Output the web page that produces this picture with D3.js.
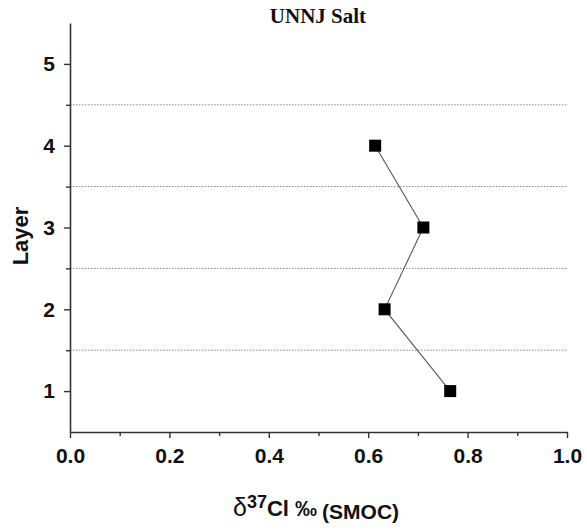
<!DOCTYPE html>
<html>
<head>
<meta charset="utf-8">
<script src="https://cdn.jsdelivr.net/npm/d3@7"></script>
<style>
  body { margin: 0; background: #fff; }
  svg { display: block; }
</style>
</head>
<body>
<svg id="chart" width="587" height="531"></svg>
<script>
// Layer-wise chlorine isotope values
const layers = [1, 2, 3, 4];
const delta37Cl = [0.765, 0.633, 0.711, 0.614];
const xTicks = [0.0, 0.2, 0.4, 0.6, 0.8, 1.0];
const xMinorTicks = [0.1, 0.3, 0.5, 0.7, 0.9];
const yTicks = [1, 2, 3, 4, 5];
const yMinorTicks = [1.5, 2.5, 3.5, 4.5];
const boundaries = [1.5, 2.5, 3.5, 4.5];

const svg = d3.select("#chart");
const plotLeft = 70, plotRight = 567, plotTop = 23, plotBottom = 432;

const x = d3.scaleLinear().domain([0, 1]).range([plotLeft, plotRight]);
const y = d3.scaleLinear().domain([0.5, 5.5]).range([plotBottom, plotTop]);

// Dotted layer boundaries
svg.append("g").selectAll("line").data(boundaries).join("line")
  .attr("x1", x(0)).attr("x2", x(1))
  .attr("y1", d => y(d)).attr("y2", d => y(d))
  .attr("stroke", "#888").attr("stroke-width", 1)
  .attr("stroke-dasharray", "1.5,1.5");

const tickFont = g => g.selectAll("text")
  .attr("font-family", "Liberation Sans, Arial, sans-serif")
  .attr("font-weight", "bold").attr("font-size", 21).attr("fill", "#111");

// X axis
const xAxis = svg.append("g").attr("transform", `translate(0,${plotBottom})`)
  .call(d3.axisBottom(x).tickValues(xTicks).tickFormat(d3.format(".1f"))
    .tickSize(6).tickSizeOuter(0).tickPadding(10));
xAxis.call(tickFont);
xAxis.select(".domain").attr("stroke", "#333").attr("stroke-width", 1.6);
xAxis.selectAll(".tick line").attr("stroke", "#333").attr("stroke-width", 1.4);
svg.append("g").attr("transform", `translate(0,${plotBottom})`)
  .call(d3.axisBottom(x).tickValues(xMinorTicks).tickFormat("").tickSize(4).tickSizeOuter(0))
  .call(g => g.select(".domain").remove())
  .selectAll("line").attr("stroke", "#333").attr("stroke-width", 1.4);

// Y axis
const yAxis = svg.append("g").attr("transform", `translate(${plotLeft},0)`)
  .call(d3.axisLeft(y).tickValues(yTicks).tickFormat(d3.format("d"))
    .tickSize(6).tickSizeOuter(0).tickPadding(9));
yAxis.call(tickFont);
yAxis.select(".domain").attr("stroke", "#333").attr("stroke-width", 1.6);
yAxis.selectAll(".tick line").attr("stroke", "#333").attr("stroke-width", 1.4);
svg.append("g").attr("transform", `translate(${plotLeft},0)`)
  .call(d3.axisLeft(y).tickValues(yMinorTicks).tickFormat("").tickSize(4).tickSizeOuter(0))
  .call(g => g.select(".domain").remove())
  .selectAll("line").attr("stroke", "#333").attr("stroke-width", 1.4);

// Connecting line and square markers
const pts = layers.map((l, i) => ({ layer: l, v: delta37Cl[i] }));
svg.append("path").datum(pts)
  .attr("fill", "none").attr("stroke", "#555").attr("stroke-width", 1.1)
  .attr("d", d3.line().x(d => x(d.v)).y(d => y(d.layer)));
const sq = 12;
svg.append("g").selectAll("rect").data(pts).join("rect")
  .attr("x", d => x(d.v) - sq / 2).attr("y", d => y(d.layer) - sq / 2)
  .attr("width", sq).attr("height", sq).attr("fill", "#000");

// Title
svg.append("text").attr("x", 318).attr("y", 23)
  .attr("text-anchor", "middle")
  .attr("font-family", "Liberation Serif, Times New Roman, serif")
  .attr("font-weight", "bold").attr("font-size", 21).attr("fill", "#111")
  .text("UNNJ Salt");

// Y label
svg.append("text")
  .attr("transform", `translate(28,236) rotate(-90)`)
  .attr("text-anchor", "middle")
  .attr("font-family", "Liberation Sans, Arial, sans-serif")
  .attr("font-weight", "bold").attr("font-size", 22).attr("fill", "#111")
  .text("Layer");

// X label: δ37Cl ‰ (SMOC)
const xl = svg.append("text").attr("x", 233).attr("y", 516)
  .attr("font-family", "Liberation Sans, Arial, sans-serif")
  .attr("font-weight", "bold").attr("font-size", 22).attr("fill", "#111");
xl.append("tspan").attr("font-weight", "normal").attr("font-size", 25).text("δ");
xl.append("tspan").attr("dy", -8).attr("font-size", 18).text("37");
xl.append("tspan").attr("dy", 8).text("Cl ‰");
xl.append("tspan").attr("dy", 3).attr("dx", 5).attr("font-size", 21).text("(SMOC)");
</script>
</body>
</html>
